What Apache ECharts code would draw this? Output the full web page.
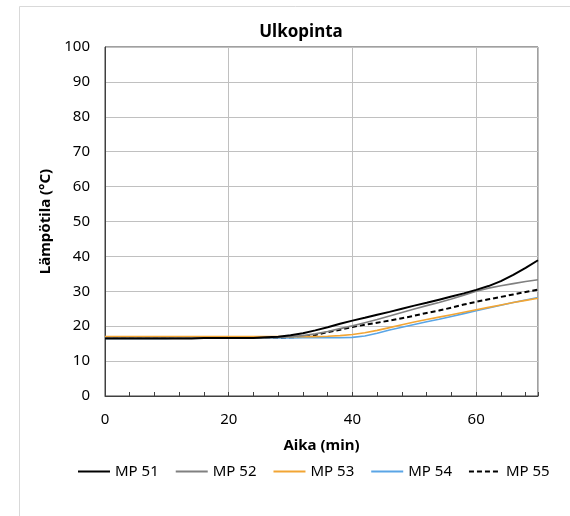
<!DOCTYPE html>
<html><head><meta charset="utf-8">
<script src="https://cdn.jsdelivr.net/npm/echarts@6/dist/echarts.min.js"></script>
<style>html,body{margin:0;padding:0;background:#fff}#c{width:570px;height:516px}</style>
</head><body><div id="c"></div>
<script>
const titleText = 'Ulkopinta';
const xName = 'Aika (min)';
const yName = 'Lämpötila (°C)';
const time = [0,2,4,6,8,10,12,14,16,18,20,22,24,26,28,30,32,34,36,38,40,42,44,46,48,50,52,54,56,58,60,62,64,66,68,70];
const seriesNames = ['MP 51','MP 52','MP 53','MP 54','MP 55'];
const mp51 = [16.5,16.5,16.5,16.5,16.5,16.5,16.5,16.5,16.6,16.6,16.6,16.6,16.6,16.8,17.0,17.4,18.0,18.8,19.7,20.7,21.6,22.4,23.3,24.1,25.0,25.9,26.7,27.6,28.5,29.4,30.4,31.5,32.9,34.7,36.7,38.9];
const mp52 = [16.6,16.6,16.6,16.6,16.6,16.6,16.6,16.6,16.6,16.6,16.6,16.6,16.6,16.6,16.8,17.0,17.3,17.8,18.5,19.3,20.1,21.0,21.9,22.9,23.9,24.9,25.9,26.8,27.8,28.9,30.0,30.9,31.6,32.2,32.8,33.3];
const mp53 = [17.0,17.0,17.0,17.0,17.0,17.0,17.0,17.0,17.0,17.0,17.0,17.0,17.0,17.0,17.0,17.0,17.0,17.0,17.1,17.3,17.6,18.1,18.8,19.6,20.4,21.2,21.9,22.6,23.3,24.0,24.7,25.4,26.1,26.8,27.4,28.0];
const mp54 = [16.5,16.5,16.5,16.5,16.5,16.5,16.6,16.6,16.6,16.6,16.6,16.6,16.6,16.6,16.6,16.6,16.7,16.7,16.7,16.7,16.8,17.2,18.0,18.9,19.7,20.5,21.3,22.0,22.8,23.6,24.4,25.2,26.0,26.8,27.5,28.2];
const mp55 = [16.6,16.6,16.6,16.6,16.6,16.6,16.6,16.6,16.6,16.6,16.6,16.6,16.6,16.6,16.6,16.8,17.0,17.5,18.3,19.0,19.8,20.4,21.0,21.6,22.3,23.0,23.8,24.5,25.3,26.2,27.0,27.7,28.4,29.1,29.8,30.5];

const allValues = [mp51, mp52, mp53, mp54, mp55];
const colors = ['#000000','#808080','#f2a534','#5aa5e6','#000000'];
const widths = [2,1.6,1.6,1.6,2];
const types = ['solid','solid','solid','solid',[5,3]];
const font = '"Noto Sans", sans-serif';

const chart = echarts.init(document.getElementById('c'), null, {renderer:'canvas'});
chart.setOption({
  animation:false,
  backgroundColor:'#fff',
  textStyle:{fontFamily:font},
  graphic:[{type:'rect', shape:{x:19.5,y:6.5,width:700,height:700}, style:{fill:'none', stroke:'#d9d9d9', lineWidth:1}, silent:true, z:-10}],
  title:{text:titleText, left:296, top:19, textAlign:'center', textStyle:{fontFamily:font, fontSize:17, fontWeight:'bold', color:'#000'}},
  grid:{left:105, right:32, top:47, bottom:120, show:true, borderColor:'#404040', borderWidth:1, containLabel:false},
  legend:{data:seriesNames, left:77, top:464, padding:0, itemWidth:32, itemHeight:14, itemGap:16,
    itemStyle:{opacity:0},
    textStyle:{fontFamily:font, fontSize:15, color:'#000'}},
  xAxis:[{type:'value', min:0, max:70, interval:20, name:xName, nameLocation:'middle', nameGap:42,
    nameTextStyle:{fontFamily:font, fontSize:15, fontWeight:'bold', color:'#000'},
    axisLine:{show:true, lineStyle:{color:'#404040', width:1}},
    axisTick:{show:false},
    axisLabel:{fontFamily:font, fontSize:15, color:'#000', margin:16, showMaxLabel:false},
    splitLine:{show:true, lineStyle:{color:'#c0c0c0', width:1}}},
   {type:'value', min:0, max:70, interval:4, position:'bottom',
    axisLine:{show:false}, axisLabel:{show:false}, splitLine:{show:false},
    axisTick:{show:true, inside:true, length:4, lineStyle:{color:'#404040'}}}],
  yAxis:{type:'value', min:0, max:100, interval:10, name:yName, nameLocation:'middle', nameGap:52,
    nameTextStyle:{fontFamily:font, fontSize:15, fontWeight:'bold', color:'#000'},
    axisLine:{show:true, lineStyle:{color:'#404040', width:1}},
    axisTick:{show:false},
    axisLabel:{fontFamily:font, fontSize:15, color:'#000', margin:15},
    splitLine:{show:true, lineStyle:{color:'#c0c0c0', width:1}}},
  series: seriesNames.map((n,i)=>({
    name:n, type:'line', xAxisIndex:0, symbol:'none', smooth:false,
    color:colors[i],
    lineStyle:{color:colors[i], width:widths[i], type:types[i]},
    data: time.map((t,k)=>[t, allValues[i][k]]),
    z: 10 - i
  }))
});
</script></body></html>
